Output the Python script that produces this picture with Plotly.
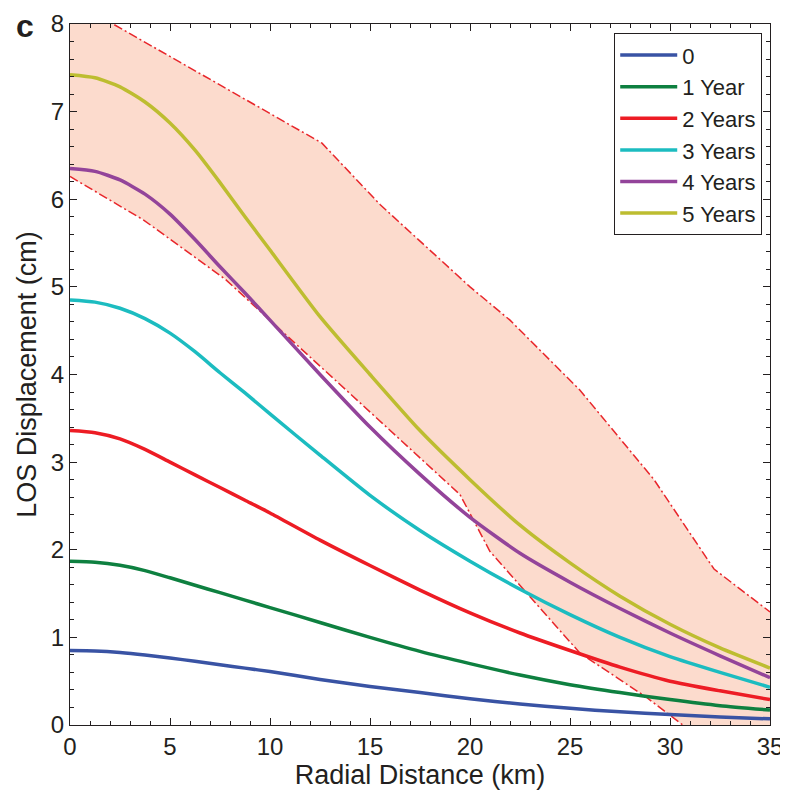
import plotly.graph_objects as go

# ---- data ----
radial_km = [0, 1.25, 2.5, 3.75, 5, 6.25, 7.5, 8.75, 10, 12.5, 15, 17.5, 20, 22.5, 25, 27.5, 30, 32.5, 35]
series_names = ["0", "1 Year", "2 Years", "3 Years", "4 Years", "5 Years"]
los_0 = [0.85, 0.845, 0.828, 0.80, 0.765, 0.727, 0.688, 0.649, 0.61, 0.52, 0.44, 0.37, 0.30, 0.24, 0.19, 0.15, 0.12, 0.09, 0.07]
los_1 = [1.87, 1.858, 1.822, 1.762, 1.68, 1.595, 1.51, 1.425, 1.34, 1.17, 1.00, 0.84, 0.70, 0.57, 0.46, 0.37, 0.29, 0.22, 0.17]
los_2 = [3.36, 3.336, 3.265, 3.145, 3.00, 2.855, 2.71, 2.565, 2.42, 2.11, 1.82, 1.54, 1.28, 1.05, 0.85, 0.66, 0.50, 0.39, 0.29]
los_3 = [4.85, 4.826, 4.756, 4.638, 4.472, 4.26, 4.02, 3.79, 3.55, 3.08, 2.62, 2.22, 1.87, 1.55, 1.26, 1.00, 0.78, 0.60, 0.43]
los_4 = [6.35, 6.318, 6.22, 6.058, 5.83, 5.54, 5.23, 4.93, 4.62, 4.00, 3.40, 2.86, 2.37, 1.96, 1.63, 1.33, 1.05, 0.79, 0.54]
los_5 = [7.42, 7.386, 7.283, 7.11, 6.87, 6.56, 6.19, 5.80, 5.42, 4.66, 4.00, 3.36, 2.80, 2.28, 1.85, 1.47, 1.15, 0.88, 0.65]
series_values = [los_0, los_1, los_2, los_3, los_4, los_5]

upper_x = [0, 12.6, 15.5, 17.5, 20, 22, 25.5, 29.2, 32.2, 35]
upper_y = [8.28, 6.64, 5.94, 5.52, 5.0, 4.62, 3.82, 2.80, 1.78, 1.29]
lower_x = [0, 3.7, 7.8, 12.5, 19.5, 21.0, 25.5, 28.8, 31.5]
lower_y = [6.26, 5.76, 5.08, 4.10, 2.63, 1.98, 0.82, 0.32, -0.15]
fill_floor_x = [35]
fill_floor_y = [-0.5]

x_ticks = [0, 5, 10, 15, 20, 25, 30, 35]
y_ticks = [0, 1, 2, 3, 4, 5, 6, 7, 8]

# ---- styles ----
colors = ["#3953A4", "#0E8040", "#ED1C24", "#1CBCC0", "#93449A", "#BDBD30"]
band_fill = "#FCDBCD"
band_line = "#E8262B"
text_color = "#231F20"
font_family = "Liberation Sans, Arial, Helvetica, sans-serif"

fig = go.Figure()

# shaded band
poly_x = upper_x + fill_floor_x + lower_x[::-1]
poly_y = upper_y + fill_floor_y + lower_y[::-1]
fig.add_trace(go.Scatter(x=poly_x, y=poly_y, mode="lines", fill="toself",
                         fillcolor=band_fill, line=dict(width=0, color=band_fill),
                         showlegend=False, hoverinfo="skip"))
for bx, by in [(upper_x, upper_y), (lower_x, lower_y)]:
    fig.add_trace(go.Scatter(x=bx, y=by, mode="lines",
                             line=dict(color=band_line, width=1.5, dash="9px,3px,2px,3px"),
                             showlegend=False, hoverinfo="skip"))

for name, vals, c in zip(series_names, series_values, colors):
    fig.add_trace(go.Scatter(x=radial_km, y=vals, mode="lines", name=name,
                             line=dict(color=c, width=3.5, shape="spline", smoothing=0.6)))

axis_common = dict(
    showline=True, linecolor="#231F20", linewidth=1.2, mirror="ticks",
    ticks="inside", ticklen=7, tickwidth=1, tickcolor="#231F20",
    showgrid=False, zeroline=False, automargin=False,
    tickfont=dict(size=24, color=text_color, family=font_family),
)

fig.update_xaxes(range=[0, 35], tickvals=x_ticks, ticktext=[str(v) for v in x_ticks],
                 minor=dict(ticks="inside", ticklen=4, dtick=1, tickcolor="#231F20"),
                 title=dict(text="Radial Distance (km)", standoff=0,
                            font=dict(size=27, color=text_color, family=font_family)),
                 ticklabelstandoff=0,
                 **axis_common)
fig.update_yaxes(range=[0, 8], tickvals=y_ticks, ticktext=[str(v) for v in y_ticks],
                 minor=dict(ticks="inside", ticklen=4, dtick=0.2, tickcolor="#231F20"),
                 title=dict(text="LOS Displacement (cm)", standoff=6,
                            font=dict(size=27, color=text_color, family=font_family)),
                 **axis_common)

fig.add_annotation(text="<b>c</b>", xref="paper", yref="paper", x=-0.064, y=0.997,
                   xanchor="center", yanchor="middle", showarrow=False,
                   font=dict(size=32, color=text_color, family=font_family))

# page body has an 8px margin, so the figure is 8px smaller than the window
fig.update_layout(
    width=780, height=784,
    margin=dict(l=62, r=18, t=16, b=67),
    paper_bgcolor="white", plot_bgcolor="white",
    legend=dict(x=0.9886, y=0.987, xanchor="right", yanchor="top",
                bgcolor="white", bordercolor="#231F20", borderwidth=1.2,
                font=dict(size=22, color=text_color, family=font_family),
                tracegroupgap=0, itemwidth=57),
    font=dict(family=font_family, color=text_color),
)

fig.write_html("out.html")
